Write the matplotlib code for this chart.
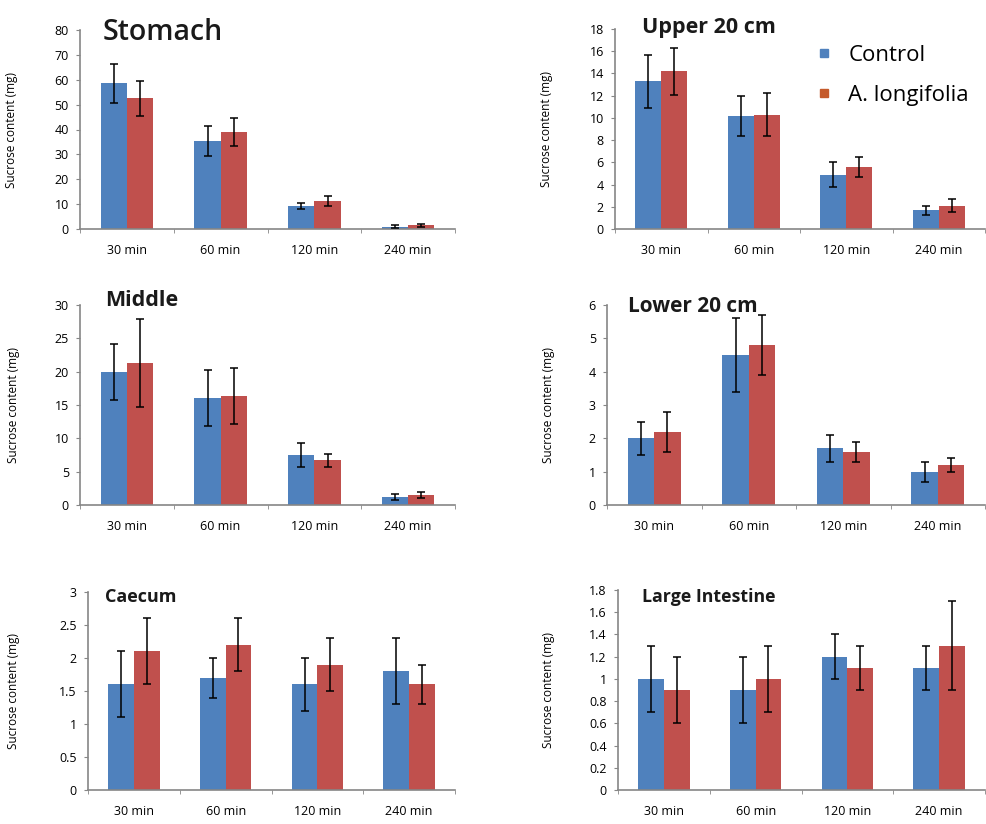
import matplotlib
matplotlib.use("Agg")
import matplotlib.pyplot as plt
from matplotlib.lines import Line2D
import numpy as np

plt.rcParams["font.family"] = ["Open Sans", "DejaVu Sans"]

# ── Data ──────────────────────────────────────────────────────────────────────
TIMES = ["30 min", "60 min", "120 min", "240 min"]

stomach_ctrl = [58.5, 35.5, 9.2, 1.0]
stomach_ctrl_err = [8.0, 6.0, 1.2, 0.5]
stomach_al = [52.5, 39.0, 11.2, 1.5]
stomach_al_err = [7.0, 5.5, 2.0, 0.5]

upper_ctrl = [13.3, 10.2, 4.9, 1.7]
upper_ctrl_err = [2.4, 1.8, 1.1, 0.4]
upper_al = [14.2, 10.3, 5.6, 2.1]
upper_al_err = [2.1, 1.9, 0.9, 0.6]

middle_ctrl = [20.0, 16.0, 7.5, 1.2]
middle_ctrl_err = [4.2, 4.2, 1.8, 0.4]
middle_al = [21.3, 16.4, 6.7, 1.5]
middle_al_err = [6.6, 4.2, 1.0, 0.5]

lower_ctrl = [2.0, 4.5, 1.7, 1.0]
lower_ctrl_err = [0.5, 1.1, 0.4, 0.3]
lower_al = [2.2, 4.8, 1.6, 1.2]
lower_al_err = [0.6, 0.9, 0.3, 0.2]

caecum_ctrl = [1.6, 1.7, 1.6, 1.8]
caecum_ctrl_err = [0.5, 0.3, 0.4, 0.5]
caecum_al = [2.1, 2.2, 1.9, 1.6]
caecum_al_err = [0.5, 0.4, 0.4, 0.3]

large_ctrl = [1.0, 0.9, 1.2, 1.1]
large_ctrl_err = [0.3, 0.3, 0.2, 0.2]
large_al = [0.9, 1.0, 1.1, 1.3]
large_al_err = [0.3, 0.3, 0.2, 0.4]

BLUE = "#4F81BD"
RED = "#C0504D"
AXIS_GREY = "#868686"
FIG_W, FIG_H = 986, 824

# title, series, ymax, ystep, axes box in px (left, top, right, bottom),
# title size, title weight, title offset px (dx, dy), ylabel offset px
PANELS = [
    ("Stomach", stomach_ctrl, stomach_ctrl_err, stomach_al, stomach_al_err,
     80, 10, (80, 30, 455, 229), 20.5, "semibold", (23, -2), 62),
    ("Upper 20 cm", upper_ctrl, upper_ctrl_err, upper_al, upper_al_err,
     18, 2, (615, 29, 985, 229), 15.5, "bold", (27, 1), 62),
    ("Middle", middle_ctrl, middle_ctrl_err, middle_al, middle_al_err,
     30, 5, (80, 305, 455, 505), 15.5, "bold", (25, 4), 60),
    ("Lower 20 cm", lower_ctrl, lower_ctrl_err, lower_al, lower_al_err,
     6, 1, (607, 305, 985, 505), 15, "bold", (21, -2), 52),
    ("Caecum", caecum_ctrl, caecum_ctrl_err, caecum_al, caecum_al_err,
     3, 0.5, (88, 592, 455, 790), 13, "bold", (17, -5), 68),
    ("Large Intestine", large_ctrl, large_ctrl_err, large_al, large_al_err,
     1.8, 0.2, (618, 590, 985, 790), 12.8, "bold", (24, -7), 63),
]

fig = plt.figure(figsize=(FIG_W / 100, FIG_H / 100), dpi=100)

x = np.arange(len(TIMES))
bw = 0.28

for (title, c, ce, a, ae, ymax, ystep, box, tsize, tweight, toff, yoff) in PANELS:
    l, t, r, b = box
    ax = fig.add_axes([l / FIG_W, 1 - b / FIG_H, (r - l) / FIG_W, (b - t) / FIG_H])
    ax.bar(x - bw / 2, c, bw, color=BLUE, zorder=2)
    ax.bar(x + bw / 2, a, bw, color=RED, zorder=2)
    ax.errorbar(x - bw / 2, c, yerr=ce, fmt="none", ecolor="black",
                elinewidth=1.1, capsize=3, capthick=1.1, zorder=3)
    ax.errorbar(x + bw / 2, a, yerr=ae, fmt="none", ecolor="black",
                elinewidth=1.1, capsize=3, capthick=1.1, zorder=3)

    ax.set_xlim(-0.5, len(TIMES) - 0.5)
    ax.set_ylim(0, ymax)
    yt = np.arange(0, ymax + ystep / 2, ystep)
    ax.set_yticks(yt)
    ax.set_yticklabels(["{:g}".format(round(v, 2)) for v in yt], fontsize=9)
    ax.set_xticks(x)
    ax.set_xticklabels(TIMES, fontsize=9)
    ax.set_xticks(np.arange(-0.5, len(TIMES)), minor=True)
    ax.tick_params(axis="x", which="major", length=0, pad=11)
    ax.tick_params(axis="x", which="minor", length=3, color=AXIS_GREY)
    ax.tick_params(axis="y", length=3, color=AXIS_GREY, pad=5)

    for s in ("top", "right"):
        ax.spines[s].set_visible(False)
    for s in ("left", "bottom"):
        ax.spines[s].set_color(AXIS_GREY)
        ax.spines[s].set_linewidth(1.2)

    ax.set_ylabel("Sucrose content (mg)", fontsize=8.5)
    ax.yaxis.set_label_coords(-yoff / (r - l), 0.5)

    ax.annotate(title, xy=(0, 1), xycoords="axes fraction",
                xytext=toff, textcoords="offset pixels",
                fontsize=tsize, fontweight=tweight, color="#1a1a1a",
                va="center", ha="left")

handles = [
    Line2D([], [], marker="s", linestyle="none", markersize=5.5,
           markerfacecolor=BLUE, markeredgecolor=BLUE, label="Control"),
    Line2D([], [], marker="s", linestyle="none", markersize=5.5,
           markerfacecolor="#C55A2B", markeredgecolor="#C55A2B", label="A. longifolia"),
]
fig.legend(handles=handles, loc="upper left", bbox_to_anchor=(815 / FIG_W, 1 - 45 / FIG_H),
           frameon=False, fontsize=16, handletextpad=0.7, labelspacing=0.85,
           handlelength=0.8, borderaxespad=0, borderpad=0)

fig.savefig("out.png", dpi=100)
